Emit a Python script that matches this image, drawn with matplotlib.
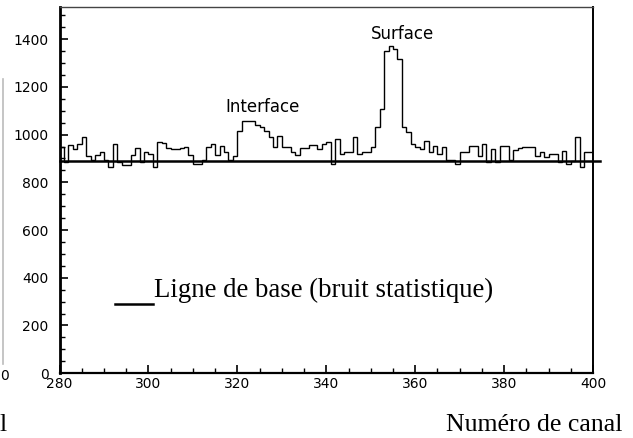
import numpy as np
import matplotlib.pyplot as plt

# counts per channel, channels 280..399
channels = np.arange(280, 401)
counts = [
    947, 884, 958, 940, 961, 990, 912, 894, 916, 926,
    894, 863, 961, 885, 873, 873, 916, 944, 884, 926,
    920, 863, 968, 965, 944, 940, 940, 944, 947, 916,
    877, 877, 894, 950, 961, 916, 954, 926, 894, 912,
    1017, 1059, 1059, 1059, 1042, 1031, 1017, 989, 947, 996,
    947, 947, 926, 916, 944, 944, 955, 955, 940, 961,
    968, 877, 982, 919, 926, 926, 989, 919, 926, 926,
    947, 1031, 1108, 1350, 1370, 1360, 1317, 1031, 1010, 961,
    947, 940, 975, 926, 954, 919, 947, 894, 894, 877,
    926, 926, 954, 954, 912, 961, 884, 940, 884, 954,
    954, 894, 937, 944, 947, 947, 947, 912, 926, 905,
    919, 919, 884, 933, 877, 891, 989, 863, 926, 926,
]
baseline = 890

fig = plt.figure(figsize=(6.33, 4.38), dpi=100)
ax = fig.add_axes([0.094, 0.148, 0.843, 0.836])

ax.stairs(counts, channels, color='black', lw=1.0)
ax.plot([280, 401.5], [baseline, baseline], color='black', lw=1.8, clip_on=False)

ax.set_xlim(280, 400)
ax.set_ylim(0, 1535)
ax.set_xticks(np.arange(280, 401, 20))
ax.set_xticks(np.arange(280, 401, 5), minor=True)
ax.set_yticks(np.arange(0, 1401, 200))
ax.set_yticks(np.arange(0, 1501, 50), minor=True)
ax.tick_params(which='both', direction='in', labelsize=10, color='black')
ax.tick_params(axis='x', which='major', length=6, width=1.2, pad=3)
ax.tick_params(axis='x', which='minor', length=3.5, width=1)
ax.tick_params(axis='y', which='major', length=6, width=1.2, pad=8)
ax.tick_params(axis='y', which='minor', length=3.5, width=1)

ax.spines['left'].set_linewidth(2.0)
ax.spines['bottom'].set_linewidth(1.6)
ax.spines['right'].set_linewidth(1.4)
ax.spines['top'].set_linewidth(1.0)
ax.spines['top'].set_color('#444444')

ax.text(325.7, 1114, 'Interface', fontsize=12, ha='center', va='center')
ax.text(357.2, 1422, 'Surface', fontsize=12, ha='center', va='center')

# legend entry for the fitted baseline
ax.plot([292.4, 301], [290, 290], color='black', lw=1.8)
ax.text(301.2, 345, 'Ligne de base (bruit statistique)', fontsize=19.3,
        family='Liberation Serif', ha='left', va='center')

fig.text(0.983, 0.029, 'Numéro de canal', fontsize=18.5,
         family='Liberation Serif', ha='right', va='center')

# remains of the neighbouring panel at the left margin
fig.text(0.0, 0.142, '0', fontsize=10, ha='left', va='center')
fig.text(0.0, 0.029, 'l', fontsize=18.5, family='Liberation Serif',
         ha='left', va='center')
fig.add_artist(plt.Line2D([0.004, 0.004], [0.17, 0.82], color='#bbbbbb', lw=1.2))

fig.savefig('out.png', dpi=100)
